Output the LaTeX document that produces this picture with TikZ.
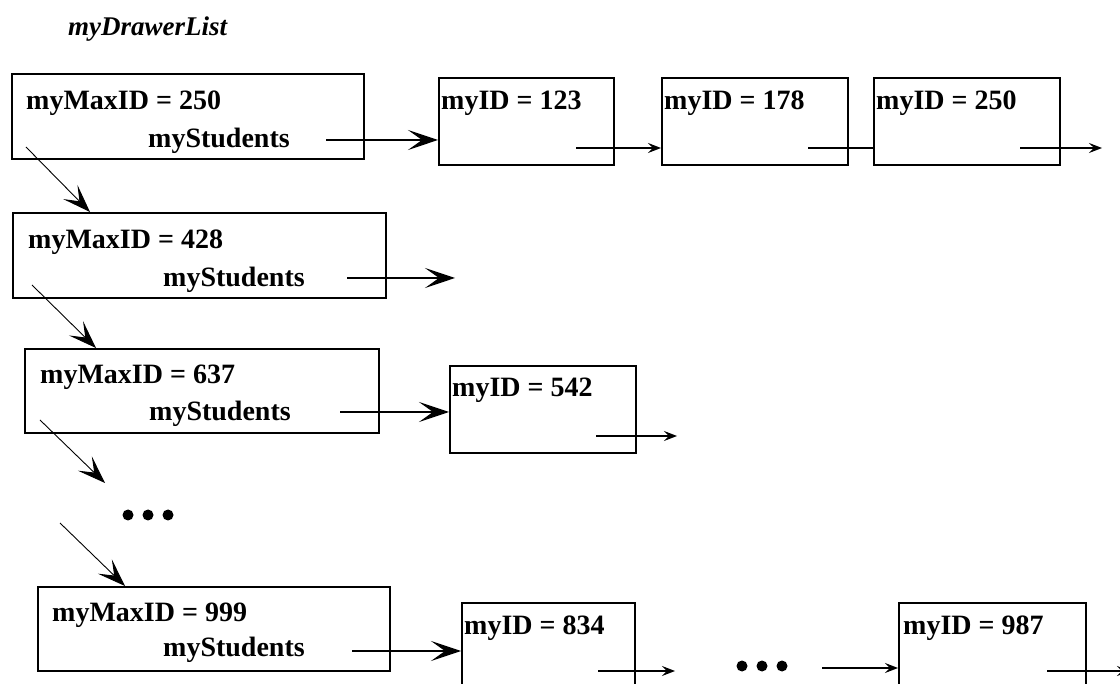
\documentclass[tikz,border=0pt]{standalone}
\usepackage{fontspec}
\setmainfont{Liberation Serif}
\usetikzlibrary{arrows.meta}
\begin{document}
\begin{tikzpicture}[x=1pt,y=-1pt,
  box/.style={draw, line width=1.7pt, inner sep=0pt, anchor=north west},
  txt/.style={font=\fontsize{28}{30}\selectfont\bfseries, inner sep=0pt, anchor=base west},
  ttl/.style={font=\fontsize{27}{29}\selectfont\bfseries\itshape, inner sep=0pt, anchor=base west},
  big/.style={-{Stealth[length=30pt,width=20pt,inset=14pt]}, line width=1.2pt},
  diag/.style={-{Stealth[length=28pt,width=20pt,inset=13pt]}, line width=0.9pt},
  small/.style={-{Stealth[length=13pt,width=10pt,inset=5pt]}, line width=1.2pt},
  plain/.style={line width=1.2pt},
  dot/.style={circle, fill, inner sep=0pt, minimum size=11pt}]
\clip (0,0) rectangle (1120,684);
\useasboundingbox (0,0) rectangle (1120,684);

% title
\node[ttl] (title) at (68,36) {myDrawerList};

% drawer boxes
\node[box, minimum width=352pt, minimum height=85pt] (a1) at (11,73) {};
\node[box, minimum width=373pt, minimum height=85pt] (a2) at (12,212) {};
\node[box, minimum width=354pt, minimum height=84pt] (a3) at (24,348) {};
\node[box, minimum width=352pt, minimum height=84pt] (a4) at (37,586) {};

\node[txt] (a1t) at (26,110) {myMaxID = 250};
\node[txt] (a1s) at (148,148) {myStudents};
\node[txt] (a2t) at (28,249) {myMaxID = 428};
\node[txt] (a2s) at (163,287) {myStudents};
\node[txt] (a3t) at (40,384) {myMaxID = 637};
\node[txt] (a3s) at (149,421) {myStudents};
\node[txt] (a4t) at (52,621) {myMaxID = 999};
\node[txt] (a4s) at (163,656) {myStudents};

% student boxes
\node[box, minimum width=175pt, minimum height=87pt] (s123) at (438,77) {};
\node[box, minimum width=186pt, minimum height=87pt] (s178) at (661,77) {};
\node[box, minimum width=186pt, minimum height=87pt] (s250) at (873,77) {};
\node[box, minimum width=186pt, minimum height=87pt] (s542) at (449,365) {};
\node[box, minimum width=173pt, minimum height=120pt] (s834) at (461,602) {};
\node[box, minimum width=187pt, minimum height=120pt] (s987) at (898,602) {};

\node[txt] (s123t) at (441,110) {myID = 123};
\node[txt] (s178t) at (664,110) {myID = 178};
\node[txt] (s250t) at (876,110) {myID = 250};
\node[txt] (s542t) at (452,397) {myID = 542};
\node[txt] (s834t) at (464,634) {myID = 834};
\node[txt] (s987t) at (903,634) {myID = 987};

% dots
\node[dot] (d1a) at (128,515) {};
\node[dot] (d1b) at (148,515) {};
\node[dot] (d1c) at (168,515) {};
\node[dot] (d2a) at (742,666) {};
\node[dot] (d2b) at (762,666) {};
\node[dot] (d2c) at (782,666) {};

% connector end points
\coordinate (p1) at (326,140);
\coordinate (p2) at (347,278);
\coordinate (p2e) at (455,278);
\coordinate (p3) at (340,412);
\coordinate (p4) at (352,651);
\coordinate (q123) at (576,148);
\coordinate (q178) at (808,148);
\coordinate (q250) at (1020,148);
\coordinate (q250e) at (1102,148);
\coordinate (q542) at (596,436);
\coordinate (q542e) at (677,436);
\coordinate (q834) at (598,671);
\coordinate (q834e) at (675,671);
\coordinate (qd) at (822,668);
\coordinate (q987) at (1047,671);
\coordinate (q987e) at (1130,671);
\coordinate (r1) at (26,147);
\coordinate (r2) at (32,285);
\coordinate (r3) at (40,420);
\coordinate (r3e) at (105,483);
\coordinate (r4) at (60,523);

% horizontal connectors
\draw[big] (p1) -- (s123.west |- p1);
\draw[big] (p2) -- (p2e);
\draw[big] (p3) -- (s542.west |- p3);
\draw[big] (p4) -- (s834.west |- p4);
\draw[small] (q123) -- (s178.west |- q123);
\draw[plain] (q178) -- (s250.west |- q178);
\draw[small] (q250) -- (q250e);
\draw[small] (q542) -- (q542e);
\draw[small] (q834) -- (q834e);
\draw[small] (qd) -- (s987.west |- qd);
\draw[small] (q987) -- (q987e);

% diagonal connectors
\draw[diag] (r1) -- (a2.north west -| 90,0);
\draw[diag] (r2) -- (a3.north west -| 96,0);
\draw[diag] (r3) -- (r3e);
\draw[diag] (r4) -- (a4.north west -| 125,0);
\end{tikzpicture}
\end{document}
